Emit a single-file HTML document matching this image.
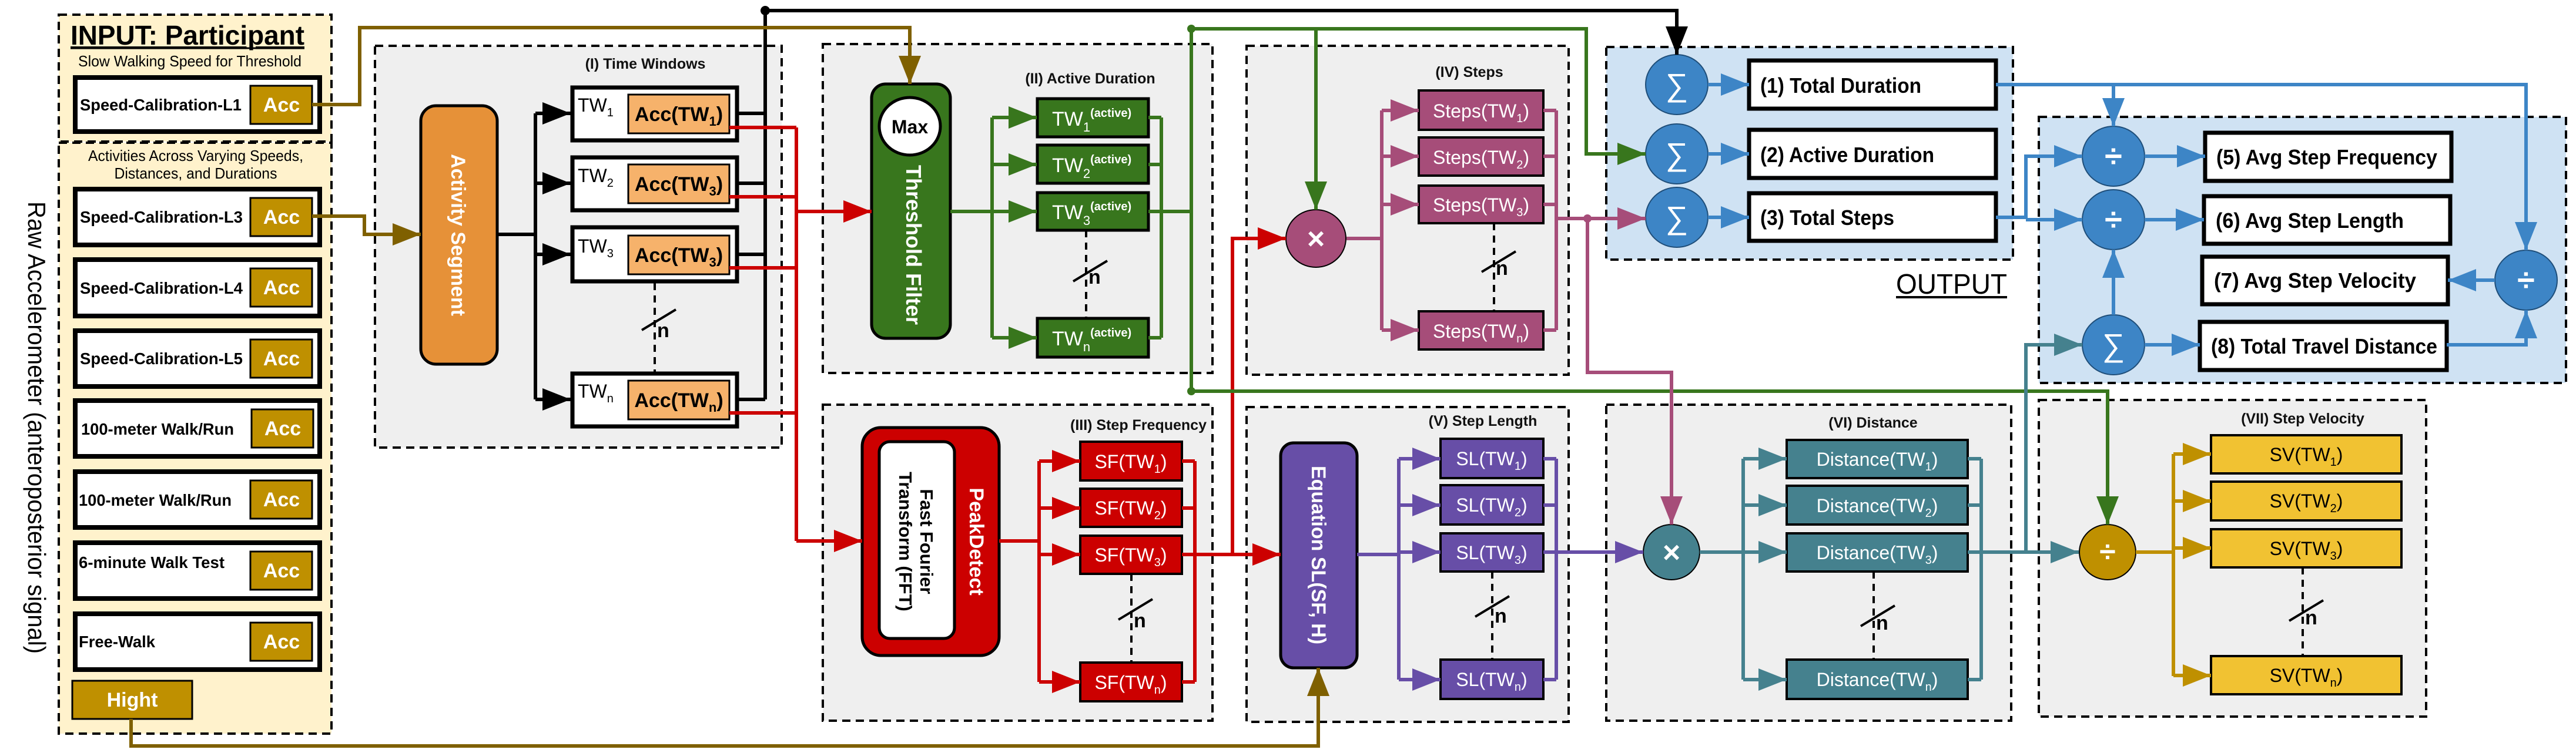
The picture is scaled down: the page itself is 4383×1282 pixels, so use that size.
<!DOCTYPE html>
<html><head><meta charset="utf-8"><style>
html,body{margin:0;padding:0;background:#fff;}
svg{display:block;}
text{font-family:"Liberation Sans",Arial,sans-serif;}
</style></head><body>
<svg width="4383" height="1282" viewBox="0 0 4383 1282" xmlns="http://www.w3.org/2000/svg">
<defs>
<marker id="aK" markerUnits="userSpaceOnUse" markerWidth="48" markerHeight="38" refX="48" refY="19" orient="auto"><path d="M0,0L48,19L0,38z" fill="#000"/></marker>
<marker id="aBr" markerUnits="userSpaceOnUse" markerWidth="48" markerHeight="38" refX="48" refY="19" orient="auto"><path d="M0,0L48,19L0,38z" fill="#7F6000"/></marker>
<marker id="aR" markerUnits="userSpaceOnUse" markerWidth="48" markerHeight="38" refX="48" refY="19" orient="auto"><path d="M0,0L48,19L0,38z" fill="#CC0000"/></marker>
<marker id="aG" markerUnits="userSpaceOnUse" markerWidth="48" markerHeight="38" refX="48" refY="19" orient="auto"><path d="M0,0L48,19L0,38z" fill="#38761D"/></marker>
<marker id="aP" markerUnits="userSpaceOnUse" markerWidth="48" markerHeight="38" refX="48" refY="19" orient="auto"><path d="M0,0L48,19L0,38z" fill="#A64D79"/></marker>
<marker id="aV" markerUnits="userSpaceOnUse" markerWidth="48" markerHeight="38" refX="48" refY="19" orient="auto"><path d="M0,0L48,19L0,38z" fill="#674EA7"/></marker>
<marker id="aT" markerUnits="userSpaceOnUse" markerWidth="48" markerHeight="38" refX="48" refY="19" orient="auto"><path d="M0,0L48,19L0,38z" fill="#45818E"/></marker>
<marker id="aY" markerUnits="userSpaceOnUse" markerWidth="48" markerHeight="38" refX="48" refY="19" orient="auto"><path d="M0,0L48,19L0,38z" fill="#BF9000"/></marker>
<marker id="aB" markerUnits="userSpaceOnUse" markerWidth="48" markerHeight="38" refX="48" refY="19" orient="auto"><path d="M0,0L48,19L0,38z" fill="#3D85C6"/></marker>
</defs>

<!-- ================= INPUT PANEL ================= -->
<rect x="100" y="25" width="464" height="216" fill="#FFF2CC" stroke="#000" stroke-width="4" stroke-dasharray="14,9"/>
<rect x="100" y="243" width="464" height="1006" fill="#FFF2CC" stroke="#000" stroke-width="4" stroke-dasharray="14,9"/>
<text x="120" y="76" font-size="46" font-weight="bold" text-decoration="underline" textLength="398" lengthAdjust="spacingAndGlyphs">INPUT: Participant</text>
<line x1="120" y1="82" x2="518" y2="82" stroke="#000" stroke-width="3"/>
<text x="323" y="113" font-size="26" text-anchor="middle" textLength="380" lengthAdjust="spacingAndGlyphs">Slow Walking Speed for Threshold</text>
<text x="333" y="274" font-size="26" text-anchor="middle" textLength="366" lengthAdjust="spacingAndGlyphs">Activities Across Varying Speeds,</text>
<text x="333" y="304" font-size="26" text-anchor="middle" textLength="277" lengthAdjust="spacingAndGlyphs">Distances, and Durations</text>

<g stroke="#000" stroke-width="8" fill="#fff">
<rect x="128" y="132" width="416" height="92"/>
<rect x="128" y="322" width="416" height="95"/>
<rect x="128" y="442" width="416" height="96"/>
<rect x="128" y="563" width="416" height="95"/>
<rect x="128" y="682" width="416" height="95"/>
<rect x="128" y="803" width="416" height="95"/>
<rect x="128" y="924" width="416" height="95"/>
<rect x="128" y="1045" width="416" height="95"/>
</g>
<g fill="#BF9000" stroke="#000" stroke-width="3">
<rect x="426" y="146" width="105" height="65"/>
<rect x="426" y="337" width="105" height="65"/>
<rect x="426" y="457" width="105" height="65"/>
<rect x="426" y="578" width="105" height="65"/>
<rect x="428" y="697" width="105" height="65"/>
<rect x="426" y="818" width="105" height="65"/>
<rect x="426" y="939" width="105" height="65"/>
<rect x="426" y="1060" width="105" height="65"/>
<rect x="123" y="1159" width="204" height="65"/>
</g>
<g font-size="34" font-weight="bold" fill="#fff" text-anchor="middle">
<text x="479" y="190">Acc</text>
<text x="479" y="381">Acc</text>
<text x="479" y="501">Acc</text>
<text x="479" y="622">Acc</text>
<text x="481" y="741">Acc</text>
<text x="479" y="862">Acc</text>
<text x="479" y="983">Acc</text>
<text x="479" y="1104">Acc</text>
<text x="225" y="1203">Hight</text>
</g>
<g font-size="28" font-weight="bold" fill="#000">
<text x="136" y="188" textLength="275" lengthAdjust="spacingAndGlyphs">Speed-Calibration-L1</text>
<text x="136" y="379" textLength="277" lengthAdjust="spacingAndGlyphs">Speed-Calibration-L3</text>
<text x="136" y="500" textLength="277" lengthAdjust="spacingAndGlyphs">Speed-Calibration-L4</text>
<text x="136" y="620" textLength="277" lengthAdjust="spacingAndGlyphs">Speed-Calibration-L5</text>
<text x="138" y="740" textLength="260" lengthAdjust="spacingAndGlyphs">100-meter Walk/Run</text>
<text x="134" y="861" textLength="260" lengthAdjust="spacingAndGlyphs">100-meter Walk/Run</text>
<text x="134" y="967" textLength="248" lengthAdjust="spacingAndGlyphs">6-minute Walk Test</text>
<text x="134" y="1102" textLength="130" lengthAdjust="spacingAndGlyphs">Free-Walk</text>
</g>
<text transform="translate(48,728) rotate(90)" font-size="42" text-anchor="middle" textLength="770" lengthAdjust="spacingAndGlyphs">Raw Accelerometer (anteroposterior signal)</text>

<!-- ================= PANELS ================= -->
<g fill="#EFEFEF" stroke="#000" stroke-width="4" stroke-dasharray="14,9">
<rect x="638" y="78" width="692" height="684"/>
<rect x="1400" y="75" width="663" height="560"/>
<rect x="1400" y="689" width="663" height="538"/>
<rect x="2121" y="78" width="548" height="560"/>
<rect x="2121" y="693" width="548" height="536"/>
<rect x="2733" y="689" width="689" height="538"/>
<rect x="3469" y="681" width="659" height="539"/>
</g>
<g fill="#CFE2F3" stroke="#000" stroke-width="4" stroke-dasharray="14,9">
<rect x="2733" y="80" width="692" height="362"/>
<rect x="3469" y="199" width="897" height="453"/>
</g>
<g font-size="25" font-weight="bold" fill="#111" text-anchor="middle">
<text x="1098" y="117">(I) Time Windows</text>
<text x="1855" y="142">(II) Active Duration</text>
<text x="1937" y="732">(III) Step Frequency</text>
<text x="2500" y="131">(IV) Steps</text>
<text x="2523" y="725">(V) Step Length</text>
<text x="3187" y="728">(VI) Distance</text>
<text x="3918" y="721">(VII)  Step Velocity</text>
</g>

<!-- ================= TIME WINDOWS ================= -->
<rect x="716" y="180" width="130" height="440" rx="26" fill="#E69138" stroke="#000" stroke-width="5"/>
<text transform="translate(768,400) rotate(90)" font-size="34" font-weight="bold" fill="#fff" text-anchor="middle">Activity Segment</text>
<g stroke="#000" stroke-width="7" fill="#fff">
<rect x="974" y="149" width="280" height="90"/>
<rect x="974" y="268" width="280" height="90"/>
<rect x="974" y="387" width="280" height="92"/>
<rect x="974" y="636" width="280" height="90"/>
</g>
<g fill="#F6B26B" stroke="#000" stroke-width="3">
<rect x="1069" y="161" width="172" height="66"/>
<rect x="1069" y="280" width="172" height="66"/>
<rect x="1069" y="401" width="172" height="66"/>
<rect x="1069" y="648" width="172" height="66"/>
</g>
<g font-size="34" font-weight="bold" text-anchor="middle">
<text x="1155" y="206">Acc(TW<tspan font-size="22" dy="8">1</tspan><tspan dy="-8">)</tspan></text>
<text x="1155" y="325">Acc(TW<tspan font-size="22" dy="8">3</tspan><tspan dy="-8">)</tspan></text>
<text x="1155" y="446">Acc(TW<tspan font-size="22" dy="8">3</tspan><tspan dy="-8">)</tspan></text>
<text x="1155" y="693">Acc(TW<tspan font-size="22" dy="8">n</tspan><tspan dy="-8">)</tspan></text>
</g>
<g font-size="32">
<text x="983" y="190">TW<tspan font-size="20" dy="8">1</tspan></text>
<text x="983" y="310">TW<tspan font-size="20" dy="8">2</tspan></text>
<text x="983" y="430">TW<tspan font-size="20" dy="8">3</tspan></text>
<text x="983" y="677">TW<tspan font-size="20" dy="8">n</tspan></text>
</g>

<!-- n markers -->
<g stroke="#000" stroke-width="4" fill="none" stroke-dasharray="12,9">
<line x1="1114" y1="482" x2="1114" y2="633"/>
<line x1="1848" y1="392" x2="1848" y2="542"/>
<line x1="2542" y1="380" x2="2542" y2="530"/>
<line x1="1925" y1="977" x2="1925" y2="1128"/>
<line x1="2539" y1="973" x2="2539" y2="1123"/>
<line x1="3188" y1="973" x2="3188" y2="1123"/>
<line x1="3918" y1="966" x2="3918" y2="1117"/>
</g>
<g stroke="#000" stroke-width="4">
<line x1="1092" y1="562" x2="1150" y2="527"/>
<line x1="1826" y1="479" x2="1884" y2="444"/>
<line x1="2521" y1="463" x2="2579" y2="428"/>
<line x1="1903" y1="1055" x2="1961" y2="1020"/>
<line x1="2510" y1="1050" x2="2568" y2="1015"/>
<line x1="3166" y1="1066" x2="3224" y2="1031"/>
<line x1="3895" y1="1057" x2="3953" y2="1022"/>
</g>
<g font-size="34" font-weight="bold">
<text x="1118" y="574">n</text>
<text x="1852" y="483">n</text>
<text x="2545" y="468">n</text>
<text x="1929" y="1068">n</text>
<text x="2543" y="1060">n</text>
<text x="3192" y="1072">n</text>
<text x="3922" y="1063">n</text>
</g>

<!-- ================= ACTIVE DURATION ================= -->
<rect x="1483" y="143" width="134" height="433" rx="24" fill="#38761D" stroke="#000" stroke-width="5"/>
<ellipse cx="1548" cy="215" rx="52" ry="49" fill="#fff" stroke="#000" stroke-width="5"/>
<text x="1548" y="227" font-size="32" font-weight="bold" text-anchor="middle">Max</text>
<text transform="translate(1542,417) rotate(90)" font-size="36" font-weight="bold" fill="#fff" text-anchor="middle">Threshold Filter</text>
<g fill="#38761D" stroke="#000" stroke-width="5">
<rect x="1765" y="168" width="189" height="65"/>
<rect x="1765" y="247" width="189" height="65"/>
<rect x="1765" y="328" width="189" height="64"/>
<rect x="1765" y="542" width="189" height="66"/>
</g>
<g fill="#fff" font-size="34">
<text x="1790" y="214">TW<tspan font-size="22" dy="10">1</tspan><tspan font-size="20" font-weight="bold" dy="-25">(active)</tspan></text>
<text x="1790" y="293">TW<tspan font-size="22" dy="10">2</tspan><tspan font-size="20" font-weight="bold" dy="-25">(active)</tspan></text>
<text x="1790" y="373">TW<tspan font-size="22" dy="10">3</tspan><tspan font-size="20" font-weight="bold" dy="-25">(active)</tspan></text>
<text x="1790" y="588">TW<tspan font-size="22" dy="10">n</tspan><tspan font-size="20" font-weight="bold" dy="-25">(active)</tspan></text>
</g>

<!-- ================= STEP FREQUENCY ================= -->
<rect x="1467" y="728" width="233" height="388" rx="32" fill="#CC0000" stroke="#000" stroke-width="5"/>
<rect x="1496" y="752" width="128" height="335" rx="18" fill="#fff" stroke="#000" stroke-width="5"/>
<text transform="translate(1650,922) rotate(90)" font-size="34" font-weight="bold" fill="#fff" text-anchor="middle">PeakDetect</text>
<text transform="translate(1566,922) rotate(90)" font-size="31" font-weight="bold" text-anchor="middle">Fast Fourier</text>
<text transform="translate(1530,922) rotate(90)" font-size="31" font-weight="bold" text-anchor="middle">Transform (FFT)</text>
<g fill="#CC0000" stroke="#000" stroke-width="4">
<rect x="1838" y="752" width="173" height="66"/>
<rect x="1838" y="832" width="173" height="65"/>
<rect x="1838" y="912" width="173" height="65"/>
<rect x="1838" y="1128" width="173" height="66"/>
</g>
<g fill="#fff" font-size="32" text-anchor="middle">
<text x="1924" y="797">SF(TW<tspan font-size="20" dy="8">1</tspan><tspan dy="-8">)</tspan></text>
<text x="1924" y="876">SF(TW<tspan font-size="20" dy="8">2</tspan><tspan dy="-8">)</tspan></text>
<text x="1924" y="956">SF(TW<tspan font-size="20" dy="8">3</tspan><tspan dy="-8">)</tspan></text>
<text x="1924" y="1173">SF(TW<tspan font-size="20" dy="8">n</tspan><tspan dy="-8">)</tspan></text>
</g>

<!-- ================= STEPS ================= -->
<ellipse cx="2239" cy="406" rx="51" ry="49" fill="#A64D79" stroke="#000" stroke-width="2"/>
<text x="2239" y="424" font-size="52" font-weight="bold" fill="#fff" text-anchor="middle">×</text>
<g fill="#A64D79" stroke="#000" stroke-width="4">
<rect x="2414" y="154" width="212" height="67"/>
<rect x="2414" y="234" width="212" height="65"/>
<rect x="2414" y="316" width="212" height="64"/>
<rect x="2414" y="530" width="212" height="65"/>
</g>
<g fill="#fff" font-size="32" text-anchor="middle">
<text x="2520" y="200">Steps(TW<tspan font-size="20" dy="8">1</tspan><tspan dy="-8">)</tspan></text>
<text x="2520" y="279">Steps(TW<tspan font-size="20" dy="8">2</tspan><tspan dy="-8">)</tspan></text>
<text x="2520" y="360">Steps(TW<tspan font-size="20" dy="8">3</tspan><tspan dy="-8">)</tspan></text>
<text x="2520" y="575">Steps(TW<tspan font-size="20" dy="8">n</tspan><tspan dy="-8">)</tspan></text>
</g>

<!-- ================= STEP LENGTH ================= -->
<rect x="2179" y="754" width="130" height="383" rx="22" fill="#674EA7" stroke="#000" stroke-width="5"/>
<text transform="translate(2232,945) rotate(90)" font-size="34" font-weight="bold" fill="#fff" text-anchor="middle">Equation SL(SF, H)</text>
<g fill="#674EA7" stroke="#000" stroke-width="4">
<rect x="2451" y="747" width="175" height="67"/>
<rect x="2451" y="826" width="175" height="67"/>
<rect x="2451" y="908" width="175" height="65"/>
<rect x="2451" y="1123" width="175" height="67"/>
</g>
<g fill="#fff" font-size="32" text-anchor="middle">
<text x="2538" y="792">SL(TW<tspan font-size="20" dy="8">1</tspan><tspan dy="-8">)</tspan></text>
<text x="2538" y="871">SL(TW<tspan font-size="20" dy="8">2</tspan><tspan dy="-8">)</tspan></text>
<text x="2538" y="952">SL(TW<tspan font-size="20" dy="8">3</tspan><tspan dy="-8">)</tspan></text>
<text x="2538" y="1168">SL(TW<tspan font-size="20" dy="8">n</tspan><tspan dy="-8">)</tspan></text>
</g>

<!-- ================= DISTANCE ================= -->
<ellipse cx="2844" cy="940" rx="48" ry="47" fill="#45818E" stroke="#000" stroke-width="2"/>
<text x="2844" y="958" font-size="52" font-weight="bold" fill="#fff" text-anchor="middle">×</text>
<g fill="#45818E" stroke="#000" stroke-width="4">
<rect x="3040" y="749" width="308" height="65"/>
<rect x="3040" y="827" width="308" height="66"/>
<rect x="3040" y="908" width="308" height="65"/>
<rect x="3040" y="1123" width="308" height="67"/>
</g>
<g fill="#fff" font-size="32" text-anchor="middle">
<text x="3194" y="793">Distance(TW<tspan font-size="20" dy="8">1</tspan><tspan dy="-8">)</tspan></text>
<text x="3194" y="872">Distance(TW<tspan font-size="20" dy="8">2</tspan><tspan dy="-8">)</tspan></text>
<text x="3194" y="952">Distance(TW<tspan font-size="20" dy="8">3</tspan><tspan dy="-8">)</tspan></text>
<text x="3194" y="1168">Distance(TW<tspan font-size="20" dy="8">n</tspan><tspan dy="-8">)</tspan></text>
</g>

<!-- ================= STEP VELOCITY ================= -->
<ellipse cx="3586" cy="940" rx="48" ry="47" fill="#BF9000" stroke="#000" stroke-width="2"/>
<text x="3586" y="956" font-size="50" font-weight="bold" fill="#fff" text-anchor="middle">÷</text>
<g fill="#F1C232" stroke="#000" stroke-width="4">
<rect x="3762" y="741" width="324" height="65"/>
<rect x="3762" y="820" width="324" height="66"/>
<rect x="3762" y="901" width="324" height="65"/>
<rect x="3762" y="1117" width="324" height="65"/>
</g>
<g fill="#000" font-size="32" text-anchor="middle">
<text x="3924" y="785">SV(TW<tspan font-size="20" dy="8">1</tspan><tspan dy="-8">)</tspan></text>
<text x="3924" y="864">SV(TW<tspan font-size="20" dy="8">2</tspan><tspan dy="-8">)</tspan></text>
<text x="3924" y="945">SV(TW<tspan font-size="20" dy="8">3</tspan><tspan dy="-8">)</tspan></text>
<text x="3924" y="1161">SV(TW<tspan font-size="20" dy="8">n</tspan><tspan dy="-8">)</tspan></text>
</g>

<!-- ================= OUTPUT ================= -->
<g fill="#3D85C6" stroke="#1F4E79" stroke-width="2">
<ellipse cx="2853" cy="144" rx="53" ry="51"/>
<ellipse cx="2853" cy="262" rx="53" ry="51"/>
<ellipse cx="2853" cy="370" rx="53" ry="51"/>
<ellipse cx="3596" cy="266" rx="53" ry="51"/>
<ellipse cx="3596" cy="374" rx="53" ry="51"/>
<ellipse cx="3596" cy="587" rx="53" ry="51"/>
<ellipse cx="4298" cy="477" rx="53" ry="51"/>
</g>
<g fill="#fff" font-size="54" text-anchor="middle">
<text x="2853" y="163">∑</text>
<text x="2853" y="281">∑</text>
<text x="2853" y="389">∑</text>
<text x="3596" y="606">∑</text>
<text x="3596" y="284" font-weight="bold">÷</text>
<text x="3596" y="392" font-weight="bold">÷</text>
<text x="4298" y="495" font-weight="bold">÷</text>
</g>
<g fill="#fff" stroke="#000" stroke-width="7">
<rect x="2976" y="103" width="420" height="82"/>
<rect x="2976" y="221" width="420" height="82"/>
<rect x="2976" y="329" width="420" height="81"/>
<rect x="3752" y="226" width="419" height="82"/>
<rect x="3750" y="334" width="419" height="81"/>
<rect x="3747" y="437" width="418" height="81"/>
<rect x="3743" y="548" width="420" height="82"/>
</g>
<g font-size="36" font-weight="bold">
<text x="2995" y="158" textLength="274" lengthAdjust="spacingAndGlyphs">(1) Total Duration</text>
<text x="2995" y="276" textLength="296" lengthAdjust="spacingAndGlyphs">(2) Active Duration</text>
<text x="2995" y="383" textLength="228" lengthAdjust="spacingAndGlyphs">(3) Total Steps</text>
<text x="3771" y="280" textLength="376" lengthAdjust="spacingAndGlyphs">(5) Avg Step Frequency</text>
<text x="3770" y="388" textLength="320" lengthAdjust="spacingAndGlyphs">(6) Avg Step Length</text>
<text x="3767" y="490" textLength="344" lengthAdjust="spacingAndGlyphs">(7) Avg Step Velocity</text>
<text x="3762" y="602" textLength="385" lengthAdjust="spacingAndGlyphs">(8) Total Travel Distance</text>
</g>
<text x="3226" y="500" font-size="48" textLength="189" lengthAdjust="spacingAndGlyphs">OUTPUT</text>
<line x1="3226" y1="506" x2="3415" y2="506" stroke="#000" stroke-width="4"/>

<!-- ================= CONNECTORS ================= -->
<g fill="none" stroke-width="6" stroke-linejoin="miter">
<!-- black -->
<g stroke="#000">
<polyline points="846,399 911,399"/>
<line x1="911" y1="193" x2="911" y2="680"/>
<line x1="911" y1="193" x2="971" y2="193" marker-end="url(#aK)"/>
<line x1="911" y1="312" x2="971" y2="312" marker-end="url(#aK)"/>
<line x1="911" y1="433" x2="971" y2="433" marker-end="url(#aK)"/>
<line x1="911" y1="680" x2="971" y2="680" marker-end="url(#aK)"/>
<line x1="1257" y1="193" x2="1302" y2="193"/>
<line x1="1257" y1="312" x2="1302" y2="312"/>
<line x1="1257" y1="433" x2="1302" y2="433"/>
<line x1="1257" y1="680" x2="1302" y2="680"/>
<polyline points="1302,680 1302,18 2853,18 2853,93" marker-end="url(#aK)"/>
</g>
<!-- brown -->
<g stroke="#7F6000">
<polyline points="531,178 612,178 612,47 1548,47 1548,143" marker-end="url(#aBr)"/>
<polyline points="531,368 620,368 620,399 716,399" marker-end="url(#aBr)"/>
<polyline points="223,1224 223,1270 2243,1270 2243,1137" marker-end="url(#aBr)"/>
</g>
<!-- red -->
<g stroke="#CC0000">
<line x1="1241" y1="217" x2="1355" y2="217"/>
<line x1="1241" y1="335" x2="1355" y2="335"/>
<line x1="1241" y1="456" x2="1355" y2="456"/>
<line x1="1241" y1="703" x2="1355" y2="703"/>
<line x1="1355" y1="217" x2="1355" y2="921"/>
<line x1="1355" y1="360" x2="1483" y2="360" marker-end="url(#aR)"/>
<line x1="1355" y1="921" x2="1467" y2="921" marker-end="url(#aR)"/>
<line x1="1700" y1="921" x2="1768" y2="921"/>
<line x1="1768" y1="785" x2="1768" y2="1161"/>
<line x1="1768" y1="785" x2="1838" y2="785" marker-end="url(#aR)"/>
<line x1="1768" y1="865" x2="1838" y2="865" marker-end="url(#aR)"/>
<line x1="1768" y1="944" x2="1838" y2="944" marker-end="url(#aR)"/>
<line x1="1768" y1="1161" x2="1838" y2="1161" marker-end="url(#aR)"/>
<line x1="2011" y1="785" x2="2033" y2="785"/>
<line x1="2011" y1="865" x2="2033" y2="865"/>
<line x1="2011" y1="1161" x2="2033" y2="1161"/>
<line x1="2033" y1="785" x2="2033" y2="1161"/>
<line x1="2011" y1="944" x2="2179" y2="944" marker-end="url(#aR)"/>
<polyline points="2097,944 2097,406 2188,406" marker-end="url(#aR)"/>
</g>
<!-- green -->
<g stroke="#38761D">
<line x1="1617" y1="360" x2="1688" y2="360"/>
<line x1="1688" y1="200" x2="1688" y2="575"/>
<line x1="1688" y1="200" x2="1764" y2="200" marker-end="url(#aG)"/>
<line x1="1688" y1="280" x2="1764" y2="280" marker-end="url(#aG)"/>
<line x1="1688" y1="360" x2="1764" y2="360" marker-end="url(#aG)"/>
<line x1="1688" y1="575" x2="1764" y2="575" marker-end="url(#aG)"/>
<line x1="1954" y1="200" x2="1976" y2="200"/>
<line x1="1954" y1="280" x2="1976" y2="280"/>
<line x1="1954" y1="575" x2="1976" y2="575"/>
<line x1="1976" y1="200" x2="1976" y2="575"/>
<line x1="1954" y1="360" x2="2027" y2="360"/>
<line x1="2027" y1="49" x2="2027" y2="666"/>
<polyline points="2027,49 2699,49 2699,262 2800,262" marker-end="url(#aG)"/>
<line x1="2239" y1="49" x2="2239" y2="357" marker-end="url(#aG)"/>
<polyline points="2027,666 3586,666 3586,893" marker-end="url(#aG)"/>
</g>
<!-- pink -->
<g stroke="#A64D79">
<line x1="2291" y1="406" x2="2351" y2="406"/>
<line x1="2351" y1="188" x2="2351" y2="562"/>
<line x1="2351" y1="188" x2="2414" y2="188" marker-end="url(#aP)"/>
<line x1="2351" y1="266" x2="2414" y2="266" marker-end="url(#aP)"/>
<line x1="2351" y1="348" x2="2414" y2="348" marker-end="url(#aP)"/>
<line x1="2351" y1="562" x2="2414" y2="562" marker-end="url(#aP)"/>
<line x1="2626" y1="188" x2="2648" y2="188"/>
<line x1="2626" y1="266" x2="2648" y2="266"/>
<line x1="2626" y1="348" x2="2648" y2="348"/>
<line x1="2626" y1="562" x2="2648" y2="562"/>
<line x1="2648" y1="188" x2="2648" y2="562"/>
<line x1="2648" y1="372" x2="2800" y2="372" marker-end="url(#aP)"/>
<polyline points="2701,372 2701,634 2844,634 2844,893" marker-end="url(#aP)"/>
</g>
<!-- purple -->
<g stroke="#674EA7">
<line x1="2309" y1="944" x2="2380" y2="944"/>
<line x1="2380" y1="781" x2="2380" y2="1157"/>
<line x1="2380" y1="781" x2="2451" y2="781" marker-end="url(#aV)"/>
<line x1="2380" y1="860" x2="2451" y2="860" marker-end="url(#aV)"/>
<line x1="2380" y1="940" x2="2451" y2="940" marker-end="url(#aV)"/>
<line x1="2380" y1="1157" x2="2451" y2="1157" marker-end="url(#aV)"/>
<line x1="2626" y1="781" x2="2648" y2="781"/>
<line x1="2626" y1="860" x2="2648" y2="860"/>
<line x1="2626" y1="1157" x2="2648" y2="1157"/>
<line x1="2648" y1="781" x2="2648" y2="1157"/>
<line x1="2626" y1="940" x2="2796" y2="940" marker-end="url(#aV)"/>
</g>
<!-- teal -->
<g stroke="#45818E">
<line x1="2892" y1="940" x2="2966" y2="940"/>
<line x1="2966" y1="781" x2="2966" y2="1157"/>
<line x1="2966" y1="781" x2="3040" y2="781" marker-end="url(#aT)"/>
<line x1="2966" y1="860" x2="3040" y2="860" marker-end="url(#aT)"/>
<line x1="2966" y1="940" x2="3040" y2="940" marker-end="url(#aT)"/>
<line x1="2966" y1="1157" x2="3040" y2="1157" marker-end="url(#aT)"/>
<line x1="3348" y1="781" x2="3371" y2="781"/>
<line x1="3348" y1="860" x2="3371" y2="860"/>
<line x1="3348" y1="1157" x2="3371" y2="1157"/>
<line x1="3371" y1="781" x2="3371" y2="1157"/>
<line x1="3348" y1="940" x2="3537" y2="940" marker-end="url(#aT)"/>
<polyline points="3447,940 3447,587 3543,587" marker-end="url(#aT)"/>
</g>
<!-- gold -->
<g stroke="#BF9000">
<line x1="3634" y1="940" x2="3698" y2="940"/>
<line x1="3698" y1="773" x2="3698" y2="1151"/>
<line x1="3698" y1="773" x2="3762" y2="773" marker-end="url(#aY)"/>
<line x1="3698" y1="853" x2="3762" y2="853" marker-end="url(#aY)"/>
<line x1="3698" y1="933" x2="3762" y2="933" marker-end="url(#aY)"/>
<line x1="3698" y1="1150" x2="3762" y2="1150" marker-end="url(#aY)"/>
</g>
<!-- blue -->
<g stroke="#3D85C6">
<line x1="2906" y1="144" x2="2976" y2="144" marker-end="url(#aB)"/>
<line x1="2906" y1="262" x2="2976" y2="262" marker-end="url(#aB)"/>
<line x1="2906" y1="370" x2="2976" y2="370" marker-end="url(#aB)"/>
<polyline points="3396,144 4298,144 4298,426" marker-end="url(#aB)"/>
<line x1="3596" y1="144" x2="3596" y2="215" marker-end="url(#aB)"/>
<polyline points="3396,370 3447,370 3447,266 3543,266" marker-end="url(#aB)"/>
<polyline points="3447,374 3543,374" marker-end="url(#aB)"/>
<line x1="3649" y1="266" x2="3752" y2="266" marker-end="url(#aB)"/>
<line x1="3649" y1="374" x2="3750" y2="374" marker-end="url(#aB)"/>
<line x1="3596" y1="536" x2="3596" y2="425" marker-end="url(#aB)"/>
<line x1="3649" y1="587" x2="3743" y2="587" marker-end="url(#aB)"/>
<polyline points="4163,587 4298,587 4298,528" marker-end="url(#aB)"/>
<line x1="4245" y1="477" x2="4165" y2="477" marker-end="url(#aB)"/>
</g>
</g>
<circle cx="1302" cy="18" r="8" fill="#000"/>
<circle cx="2027" cy="49" r="7" fill="#38761D"/>
<circle cx="2027" cy="666" r="7" fill="#38761D"/>
<circle cx="2701" cy="372" r="7" fill="#A64D79"/>
</svg>
</body></html>
